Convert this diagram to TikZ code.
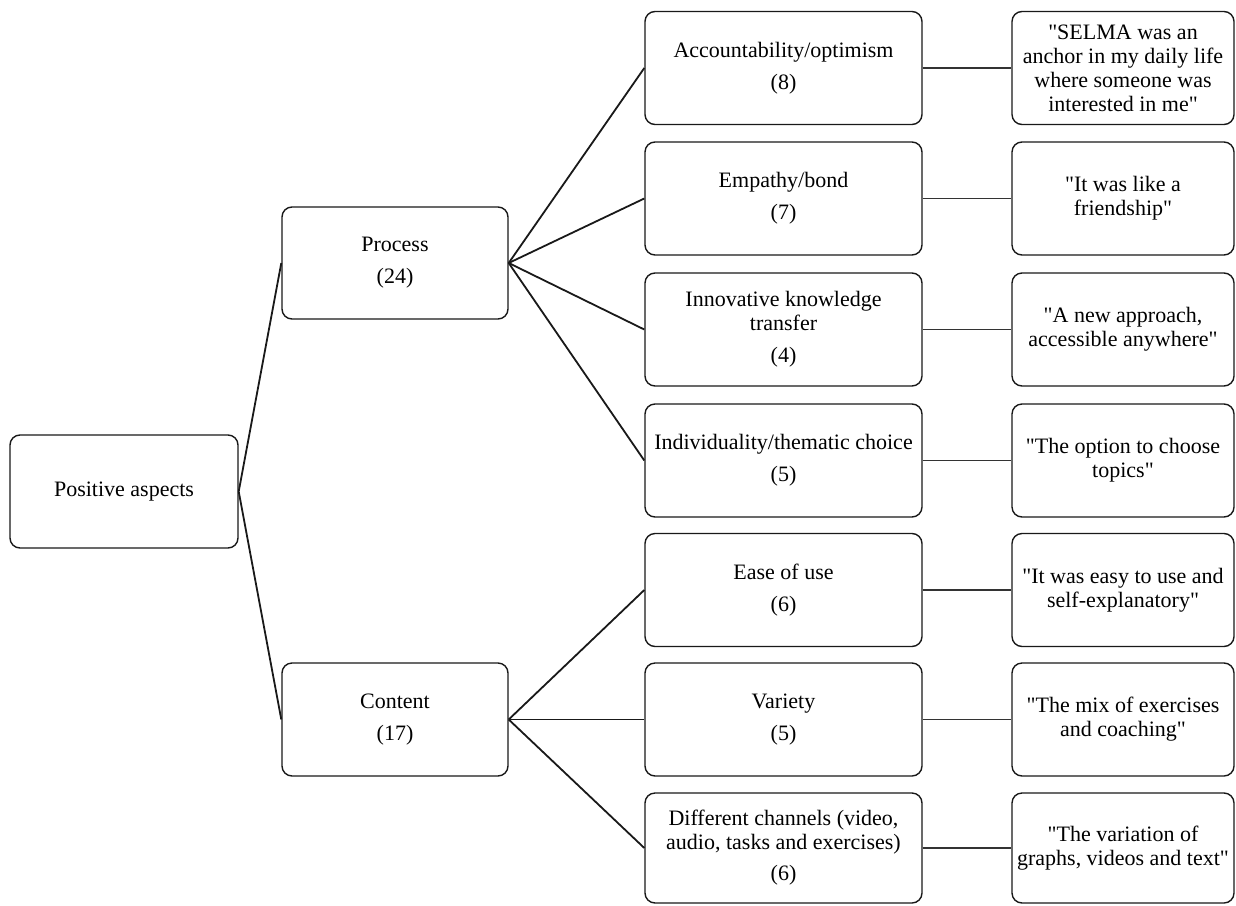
\documentclass[tikz,border=0pt]{standalone}
\usepackage{fontspec}
\setmainfont{Liberation Serif}
\newfontfamily\tnr[Ligatures=NoCommon]{Liberation Serif}
\newcommand{\q}{\symbol{34}}
\begin{document}
\begin{tikzpicture}[x=1pt,y=-1pt,
  box/.style={draw=black!90, line width=1.4pt, rounded corners=10pt, align=center,
    inner sep=0pt, text=black, font=\tnr\fontsize{22}{24}\selectfont},
  mid/.style={box, minimum width=277pt, minimum height=113pt},
  quote/.style={box, minimum width=222pt, minimum height=113pt},
  conn/.style={draw=black!90, line width=1.8pt},
  qconn/.style={draw=black!80, line width=1.3pt}]
\useasboundingbox (0,0) rectangle (1236,905);
\node[box, minimum width=228pt, minimum height=113pt] (root) at (124,491.5) {Positive aspects};
\node[box, minimum width=226pt, minimum height=112pt] (proc) at (395,263) {Process\\[8pt](24)};
\node[box, minimum width=226pt, minimum height=113pt] (cont) at (395,719.5) {Content\\[8pt](17)};
\node[mid] (a1) at (783.5,68) {Accountability/optimism\\[8pt](8)};
\node[mid] (a2) at (783.5,198.5) {Empathy/bond\\[8pt](7)};
\node[mid] (a3) at (783.5,329.5) {Innovative knowledge\\transfer\\[8pt](4)};
\node[mid] (a4) at (783.5,460.5) {Individuality/thematic choice\\[8pt](5)};
\node[mid] (b1) at (783.5,590) {Ease of use\\[8pt](6)};
\node[mid] (b2) at (783.5,719.5) {Variety\\[8pt](5)};
\node[mid, minimum height=110pt] (b3) at (783.5,848) {Different channels (video,\\audio, tasks and exercises)\\[7pt](6)};
\node[quote] (q1) at (1123,68) {\q SELMA was an\\anchor in my daily life\\where someone was\\interested in me\q};
\node[quote] (q2) at (1123,198.5) {\q It was like a\\friendship\q};
\node[quote] (q3) at (1123,329.5) {\q A new approach,\\accessible anywhere\q};
\node[quote] (q4) at (1123,460.5) {\q The option to choose\\topics\q};
\node[quote] (q5) at (1123,590) {\q It was easy to use and\\self-explanatory\q};
\node[quote] (q6) at (1123,719.5) {\q The mix of exercises\\and coaching\q};
\node[quote, minimum height=110pt] (q7) at (1123,848) {\q The variation of\\graphs, videos and text\q};
\draw[conn] (proc.west) -- (root.east) -- (cont.west);
\foreach \n in {a1,a2,a3,a4} \draw[conn] (proc.east) -- (\n.west);
\foreach \n in {b1,b2,b3} \draw[conn] (cont.east) -- (\n.west);
\draw[qconn] (a1.east) -- (q1.west);
\draw[qconn] (a2.east) -- (q2.west);
\draw[qconn] (a3.east) -- (q3.west);
\draw[qconn] (a4.east) -- (q4.west);
\draw[qconn] (b1.east) -- (q5.west);
\draw[qconn] (b2.east) -- (q6.west);
\draw[qconn] (b3.east) -- (q7.west);
\end{tikzpicture}
\end{document}
